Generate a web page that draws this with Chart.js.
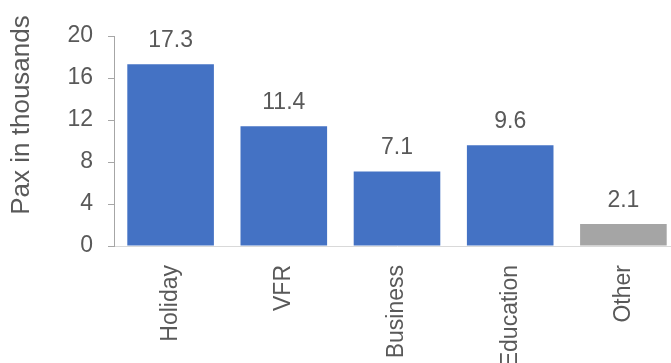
<!DOCTYPE html>
<html>
<head>
<meta charset="utf-8">
<script src="https://cdn.jsdelivr.net/npm/chart.js@4"></script>
<style>
  html,body{margin:0;padding:0;background:#fff;}
  #wrap{width:671px;height:363px;overflow:hidden;position:relative;}
  canvas{display:block;}
</style>
</head>
<body>
<div id="wrap"><canvas id="c" width="690" height="363"></canvas></div>
<script>
// ── DATA ──────────────────────────────────────────────────────────────────────
const cats   = ['Holiday','VFR','Business','Education','Other'];
const vals   = [17.3, 11.4, 7.1, 9.6, 2.1];
const barCols= ['#4472C4','#4472C4','#4472C4','#4472C4','#A5A5A5'];
const yTicks = [0, 4, 8, 12, 16, 20];
const yTitle = 'Pax in thousands';

const FONT = '"Liberation Sans", Arial, sans-serif';
const TXT  = '#595959';

// value labels above each bar
const valLbl = {
  id:'valLbl',
  afterDatasetsDraw(chart){
    const {ctx} = chart;
    const meta = chart.getDatasetMeta(0);
    ctx.save();
    ctx.font = `23px ${FONT}`;
    ctx.fillStyle = TXT;
    ctx.textAlign = 'center';
    ctx.textBaseline = 'alphabetic';
    meta.data.forEach((b,i)=>{
      ctx.fillText(vals[i].toFixed(1), b.x, b.y - 17);
    });
    ctx.restore();
  }
};

// rotated y title, placed like the original (not centred on the axis)
const yTtl = {
  id:'yTtl',
  afterDraw(chart){
    const {ctx} = chart;
    ctx.save();
    ctx.translate(22, 115);
    ctx.rotate(-Math.PI/2);
    ctx.font = `26px ${FONT}`;
    ctx.fillStyle = TXT;
    ctx.textAlign = 'center';
    ctx.textBaseline = 'middle';
    ctx.fillText(yTitle, 0, 0);
    ctx.restore();
  }
};

new Chart(document.getElementById('c'),{
  type:'bar',
  data:{labels:cats,datasets:[{data:vals,backgroundColor:barCols,borderWidth:0,
    categoryPercentage:1,barPercentage:0.765}]},
  options:{
    responsive:false,animation:false,devicePixelRatio:1,
    layout:{padding:{top:36,right:10,left:0,bottom:0}},
    plugins:{legend:{display:false},tooltip:{enabled:false}},
    scales:{
      x:{
        grid:{display:false},
        border:{display:true,color:'#D9D9D9',width:1},
        ticks:{color:TXT,font:{size:23,family:FONT},minRotation:90,maxRotation:90,padding:11,autoSkip:false},
        afterFit(s){ s.height = 117; }
      },
      y:{
        min:0,max:20,
        afterBuildTicks(s){ s.ticks = yTicks.map(v=>({value:v})); },
        grid:{display:true,drawOnChartArea:false,drawTicks:true,tickLength:6,color:'#A6A6A6'},
        border:{display:true,color:'#A6A6A6',width:1},
        ticks:{color:TXT,font:{size:23,family:FONT},padding:15},
        afterFit(s){ s.width = 114; }
      }
    }
  },
  plugins:[valLbl,yTtl]
});
</script>
</body>
</html>
